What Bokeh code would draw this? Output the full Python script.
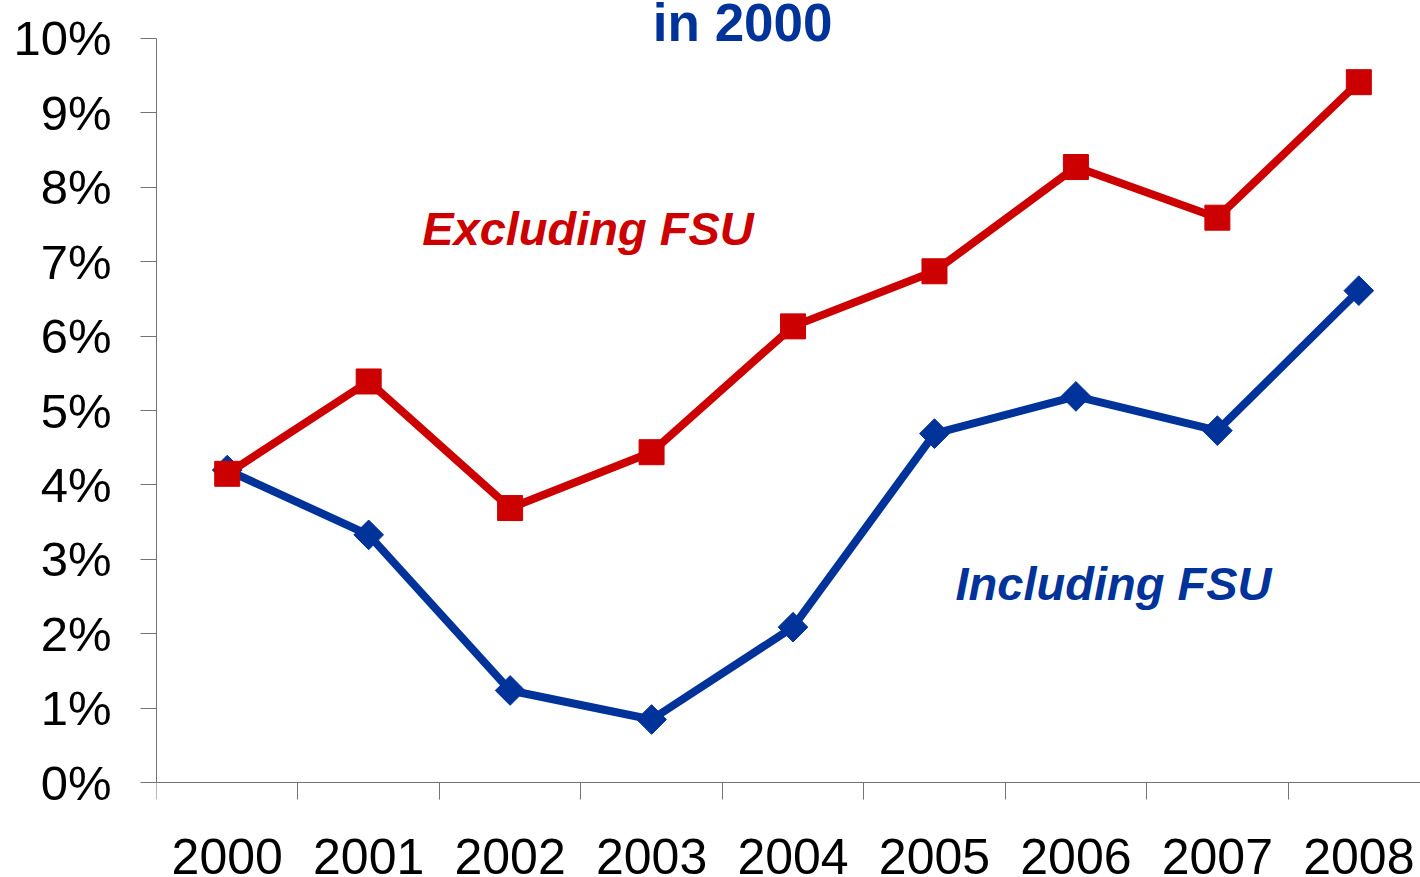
import math
from bokeh.plotting import figure
from bokeh.models import Range1d, FixedTicker, Label
from bokeh.embed import file_html
from bokeh.resources import INLINE

# ---- data ----
years = ["2000", "2001", "2002", "2003", "2004", "2005", "2006", "2007", "2008"]
excluding_fsu = [4.15, 5.39, 3.69, 4.44, 6.13, 6.87, 8.27, 7.59, 9.41]
including_fsu = [4.20, 3.33, 1.24, 0.85, 2.09, 4.69, 5.19, 4.73, 6.61]
y_ticks = [0, 1, 2, 3, 4, 5, 6, 7, 8, 9, 10]
y_tick_labels = [f"{t}%" for t in y_ticks]
title_text = "in 2000"
label_excl = "Excluding FSU"
label_incl = "Including FSU"

RED = "#CC0000"
BLUE = "#003399"
AXIS = "#737373"
FONT = "Liberation Sans"

xs = [i + 0.5 for i in range(len(years))]

W, H = 1420, 877
p = figure(width=W, height=H, output_backend="svg", toolbar_location=None,
           x_range=Range1d(0, 8.936), y_range=Range1d(-1.272, 10.507),
           min_border_left=156, min_border_right=0, min_border_top=0,
           min_border_bottom=0)
p.grid.visible = False
p.outline_line_color = None
p.background_fill_color = "white"
p.border_fill_color = "white"

# y axis
ya = p.yaxis[0]
ya.ticker = FixedTicker(ticks=y_ticks)
ya.major_label_overrides = {t: l for t, l in zip(y_ticks, y_tick_labels)}
ya.bounds = (0, 10)
ya.minor_tick_line_color = None
ya.major_tick_in = 0
ya.major_tick_out = 16
ya.major_tick_line_color = AXIS
ya.axis_line_color = AXIS
ya.major_label_standoff = 29
ya.major_label_text_font = FONT
ya.major_label_text_font_size = "49px"
ya.major_label_text_color = "black"

# x axis
xa = p.xaxis[0]
xa.fixed_location = 0
xa.ticker = FixedTicker(ticks=xs, minor_ticks=list(range(len(years))))
xa.major_label_overrides = {x: y for x, y in zip(xs, years)}
xa.major_tick_in = 0
xa.major_tick_out = 0
xa.major_tick_line_color = None
xa.minor_tick_in = 0
xa.minor_tick_out = 17
xa.minor_tick_line_color = AXIS
xa.axis_line_color = AXIS
xa.major_label_standoff = 39
xa.major_label_text_font = FONT
xa.major_label_text_font_size = "50px"
xa.major_label_text_color = "black"

# series
p.line(xs, including_fsu, line_color=BLUE, line_width=8, line_join="round")
p.scatter(xs, including_fsu, marker="square", size=21, angle=math.pi / 4,
          fill_color=BLUE, line_color=BLUE)
p.line(xs, excluding_fsu, line_color=RED, line_width=8, line_join="round")
p.scatter(xs, excluding_fsu, marker="square", size=25,
          fill_color=RED, line_color=RED)

# texts
p.add_layout(Label(x=4.144, y=10.208, text=title_text, text_align="center",
                   text_baseline="middle", text_font=FONT,
                   text_font_style="bold", text_font_size="53px",
                   text_color=BLUE))
p.add_layout(Label(x=1.878, y=7.443, text=label_excl, text_align="left",
                   text_baseline="middle", text_font=FONT,
                   text_font_style="bold italic", text_font_size="47px",
                   text_color=RED))
p.add_layout(Label(x=5.649, y=2.679, text=label_incl, text_align="left",
                   text_baseline="middle", text_font=FONT,
                   text_font_style="bold italic", text_font_size="47px",
                   text_color=BLUE))

open("out.html", "w").write(file_html(p, INLINE))
